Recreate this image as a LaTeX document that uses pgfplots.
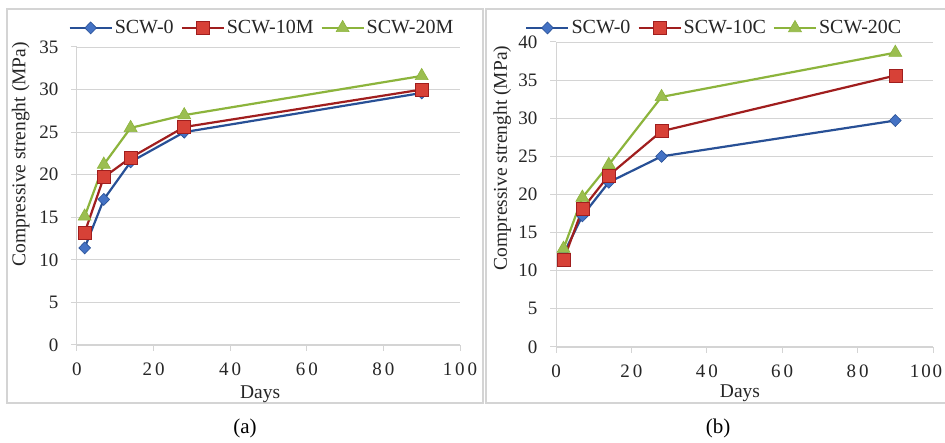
\documentclass[border=0pt]{standalone}
\usepackage{pgfplots}
\pgfplotsset{compat=1.18}
\usepackage{fontspec}
\setmainfont{Liberation Serif}
\definecolor{bline}{RGB}{40,80,150}
\definecolor{bfill}{RGB}{68,114,196}
\definecolor{rline}{RGB}{160,30,30}
\definecolor{rfill}{RGB}{215,65,55}
\definecolor{gline}{RGB}{140,180,60}
\definecolor{gfill}{RGB}{155,190,80}
\definecolor{axgray}{RGB}{212,212,212}
\pgfplotsset{
  panel/.style={
    scale only axis,
    xmin=0, xmax=100,
    xtick={0,20,40,60,80,100},
    axis x line*=bottom, axis y line*=left,
    axis line style={axgray, line width=1pt},
    tick style={axgray, line width=1pt},
    tick align=outside, major tick length=6pt,
    ymajorgrids, major grid style={axgray, line width=0.9pt},
    /pgf/number format/assume math mode=true,
    ticklabel style={font=\fontsize{19}{19}\selectfont, text=black!85},
    xticklabel style={yshift=-8pt},
    yticklabel style={xshift=-9pt},
    label style={font=\fontsize{19.5}{19.5}\selectfont, text=black!85},
    xlabel={Days},
    ylabel={Compressive strenght (MPa)},
    legend columns=-1,
    legend style={draw=none, fill=none, font=\fontsize{20}{20}\selectfont, text=black!85,
      /tikz/every even column/.append style={column sep=5pt}},
    legend image code/.code={\draw[mark repeat=2,mark phase=2] plot coordinates {(0pt,0pt)(21pt,0pt)(42pt,0pt)};},
    clip=false,
  },
  s0/.style={bline, line width=2.2pt, mark=diamond*, mark size=6pt, mark options={fill=bfill, draw=bline, line width=0.6pt, xscale=1.3}},
  s1/.style={rline, line width=2.2pt, mark=square*, mark size=6.5pt, mark options={fill=rfill, draw=rline, line width=0.6pt}},
  s2/.style={gline, line width=2.2pt, mark=triangle*, mark size=7.5pt, mark options={fill=gfill, draw=gline, line width=0.6pt}},
}
\begin{document}
\begin{tikzpicture}[x=1pt,y=1pt]
\useasboundingbox (0,0) rectangle (945,443);
\fill[white] (0,0) rectangle (945,443);
\draw[axgray, line width=1.2pt] (7,40) rectangle (483,434);
\draw[axgray, line width=1.2pt] (950,434) -- (486,434) -- (486,40) -- (950,40);
\node[font=\fontsize{21}{21}\selectfont] at (245,15) {(a)};
\node[font=\fontsize{21}{21}\selectfont] at (718,15) {(b)};
\begin{axis}[panel,
  at={(77pt,98pt)}, anchor=south west,
  width=383pt, height=298pt,
  ymin=0, ymax=35, ytick={0,5,...,35},
  xticklabels={0,2\hspace{3pt}0,4\hspace{3pt}0,6\hspace{3pt}0,8\hspace{3pt}0,1\hspace{3pt}0\hspace{3pt}0},
  xlabel style={at={(axis description cs:0.478,-0.165)}, anchor=center},
  ylabel style={at={(axis description cs:-0.147,0.64)}, anchor=center},
  legend style={at={(0.483,1.064)}, anchor=center},
]
\addplot[s0] coordinates {(2,11.4) (7,17.1) (14,21.5) (28,25.0) (90,29.6)};
\addlegendentry{SCW-0}
\addplot[s1] coordinates {(2,13.2) (7,19.7) (14,22.0) (28,25.6) (90,30.0)};
\addlegendentry{SCW-10M}
\addplot[s2] coordinates {(2,15.1) (7,21.2) (14,25.5) (28,27.0) (90,31.6)};
\addlegendentry{SCW-20M}
\end{axis}
\begin{axis}[panel,
  at={(556pt,96pt)}, anchor=south west,
  width=377pt, height=305pt,
  ymin=0, ymax=40, ytick={0,5,...,40},
  xticklabels={0,2\hspace{3pt}0,4\hspace{3pt}0,6\hspace{3pt}0,8\hspace{3pt}0,\hspace{-14pt}1\hspace{2pt}0\hspace{2pt}0},
  xlabel style={at={(axis description cs:0.488,-0.153)}, anchor=center},
  ylabel style={at={(axis description cs:-0.143,0.62)}, anchor=center},
  legend style={at={(0.42,1.046)}, anchor=center},
]
\addplot[s0] coordinates {(2,12.2) (7,17.2) (14,21.6) (28,25.0) (90,29.7)};
\addlegendentry{SCW-0}
\addplot[s1] coordinates {(2,11.4) (7,18.1) (14,22.5) (28,28.3) (90,35.6)};
\addlegendentry{SCW-10C}
\addplot[s2] coordinates {(2,12.9) (7,19.6) (14,23.9) (28,32.8) (90,38.6)};
\addlegendentry{SCW-20C}
\end{axis}
\end{tikzpicture}
\end{document}
